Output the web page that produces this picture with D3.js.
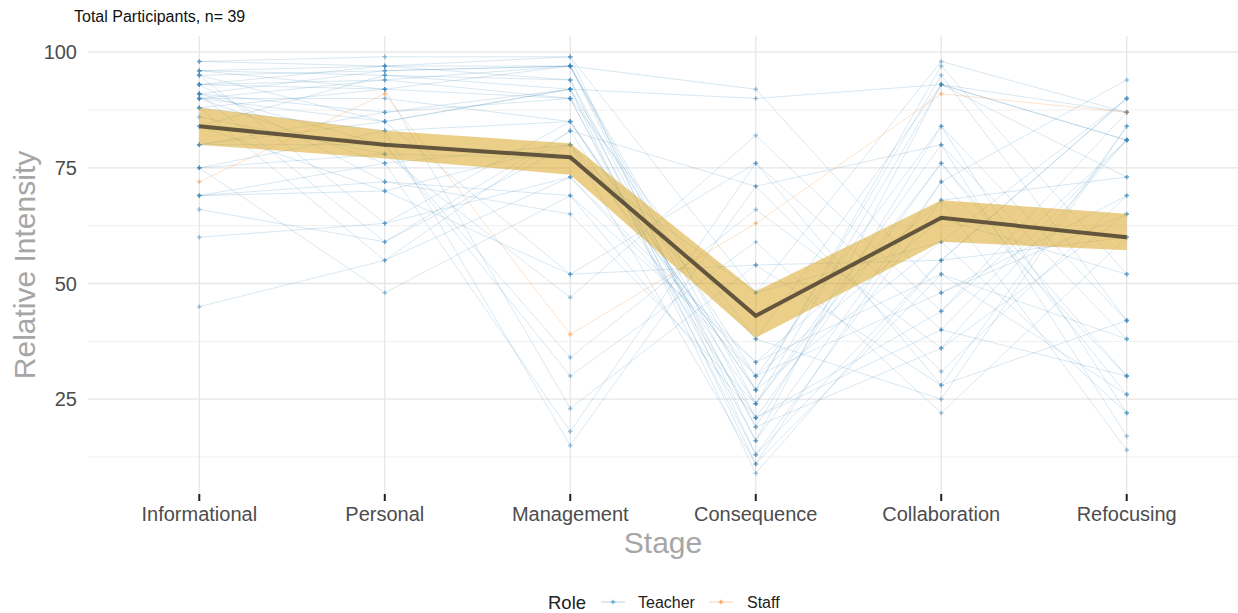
<!DOCTYPE html>
<html>
<head>
<meta charset="utf-8">
<script src="https://cdn.jsdelivr.net/npm/d3@7"></script>
<style>
  body { margin: 0; background: #fff; }
  text { font-family: "Liberation Sans", Arial, sans-serif; }
</style>
</head>
<body>
<div id="chart"></div>
<script>
//Stages on the x axis
const stages = ["Informational", "Personal", "Management", "Consequence", "Collaboration", "Refocusing"];

//One value per participant (same row order in every array), last one is the staff member
const informational = [98,98,96,96,96,95,95,95,93,93,93,93,91,91,91,91,90,90,90,90,88,88,88,86,84,84,80,80,80,75,75,75,69,69,69,66,60,45,72];
const personal      = [97,99,95,92,97,85,96,63,94,92,97,72,96,87,80,59,94,90,85,76,92,83,55,78,95,70,87,85,80,83,78,48,76,72,70,59,63,55,91];
const management    = [97,99,92,97,99,52,97,85,90,23,94,69,97,92,30,83,97,85,92,80,90,15,73,47,94,80,90,92,34,85,77,69,18,65,52,80,73,83,39];
const consequence   = [24,13,30,21,48,76,16,27,38,54,11,33,27,19,59,21,92,24,9,30,16,71,33,82,19,38,13,90,66,27,48,21,76,24,54,11,30,71,63];
const collaboration = [93,55,84,44,98,40,72,59,93,28,52,68,95,36,22,76,48,80,55,64,93,31,52,44,84,25,68,93,36,97,59,40,28,76,55,72,48,80,91];
const refocusing    = [81,90,42,81,87,30,94,22,87,84,26,73,42,81,60,30,65,17,90,52,81,69,38,87,22,84,14,73,65,52,90,81,42,26,60,30,69,38,87];
const roles = ["Teacher","Teacher","Teacher","Teacher","Teacher","Teacher","Teacher","Teacher","Teacher","Teacher",
               "Teacher","Teacher","Teacher","Teacher","Teacher","Teacher","Teacher","Teacher","Teacher","Teacher",
               "Teacher","Teacher","Teacher","Teacher","Teacher","Teacher","Teacher","Teacher","Teacher","Teacher",
               "Teacher","Teacher","Teacher","Teacher","Teacher","Teacher","Teacher","Teacher","Staff"];

//Group mean and its band
const meanLine = [84, 80, 77.3, 43, 64.2, 60];
const bandLow  = [80, 77, 73.5, 38.3, 59, 57.2];
const bandHigh = [88, 83, 80.3, 48.3, 68, 65.1];

//Tick labels
const yTicks = [25, 50, 75, 100];
const yMinor = [12.5, 37.5, 62.5, 87.5];
const legendRoles = ["Teacher", "Staff"];

const columns = [informational, personal, management, consequence, collaboration, refocusing];
const participants = roles.map(function (r, i) {
    return { role: r, values: columns.map(function (c) { return c[i]; }) };
});

const colors = { Teacher: "#2c7fb8", Staff: "#ff7f0e" };

var W = 1238, H = 613;
var margin = { top: 36, right: 0, bottom: 119, left: 88 };

var svg = d3.select("#chart")
    .append("svg")
    .attr("width", W)
    .attr("height", H);

//Scales
var x = d3.scalePoint()
    .domain(stages)
    .range([margin.left, W - margin.right])
    .padding(0.6);

var y = d3.scaleLinear()
    .domain([4.5, 103.5])
    .range([H - margin.bottom, margin.top]);

//Grid
var grid = svg.append("g");
grid.selectAll(".minor")
    .data(yMinor)
    .enter().append("line")
    .attr("x1", margin.left).attr("x2", W - margin.right)
    .attr("y1", d => y(d)).attr("y2", d => y(d))
    .attr("stroke", "#f0f0f0").attr("stroke-width", 1);
grid.selectAll(".major")
    .data(yTicks)
    .enter().append("line")
    .attr("x1", margin.left).attr("x2", W - margin.right)
    .attr("y1", d => y(d)).attr("y2", d => y(d))
    .attr("stroke", "#e6e6e6").attr("stroke-width", 1.3);
grid.selectAll(".vert")
    .data(stages)
    .enter().append("line")
    .attr("x1", d => x(d)).attr("x2", d => x(d))
    .attr("y1", margin.top).attr("y2", H - margin.bottom)
    .attr("stroke", "#e6e6e6").attr("stroke-width", 1.3);

//Participant lines
var line = d3.line()
    .x((d, i) => x(stages[i]))
    .y(d => y(d));

svg.append("g")
    .selectAll("path")
    .data(participants)
    .enter().append("path")
    .attr("d", d => line(d.values))
    .attr("fill", "none")
    .attr("stroke", d => colors[d.role])
    .attr("stroke-opacity", d => d.role == "Staff" ? 0.22 : 0.18)
    .attr("stroke-width", 1);

//Participant points
var cross = d3.symbol().type(d3.symbolCross).size(11);
var pts = [];
participants.forEach(function (p) {
    p.values.forEach(function (v, i) { pts.push({ role: p.role, stage: stages[i], v: v }); });
});
svg.append("g")
    .selectAll("path")
    .data(pts)
    .enter().append("path")
    .attr("d", cross)
    .attr("transform", d => "translate(" + x(d.stage) + "," + y(d.v) + ")")
    .attr("fill", d => colors[d.role])
    .attr("fill-opacity", 0.45);

//Band
var area = d3.area()
    .x((d, i) => x(stages[i]))
    .y0((d, i) => y(bandLow[i]))
    .y1((d, i) => y(bandHigh[i]));
svg.append("path")
    .attr("d", area(meanLine))
    .attr("fill", "#DAA520")
    .attr("fill-opacity", 0.53);

//Mean line
svg.append("path")
    .attr("d", line(meanLine))
    .attr("fill", "none")
    .attr("stroke", "#4b4130")
    .attr("stroke-opacity", 0.85)
    .attr("stroke-width", 4);

//Y axis labels
svg.append("g")
    .selectAll("text")
    .data(yTicks)
    .enter().append("text")
    .attr("x", margin.left - 11)
    .attr("y", d => y(d))
    .attr("dy", "0.36em")
    .attr("text-anchor", "end")
    .style("font-size", "20px")
    .style("fill", "#4d4d4d")
    .text(d => d);

//X axis ticks and labels
var xa = svg.append("g");
xa.selectAll("line")
    .data(stages)
    .enter().append("line")
    .attr("x1", d => x(d)).attr("x2", d => x(d))
    .attr("y1", H - margin.bottom).attr("y2", H - margin.bottom + 7)
    .attr("stroke", "#222").attr("stroke-width", 2);
xa.selectAll("text")
    .data(stages)
    .enter().append("text")
    .attr("x", d => x(d))
    .attr("y", 521)
    .attr("text-anchor", "middle")
    .style("font-size", "20px")
    .style("fill", "#4d4d4d")
    .text(d => d);

//Axis titles
svg.append("text")
    .attr("x", (margin.left + W) / 2)
    .attr("y", 553)
    .attr("text-anchor", "middle")
    .style("font-size", "30px")
    .style("fill", "#a6a6a6")
    .text("Stage");

svg.append("text")
    .attr("transform", "translate(35," + ((margin.top + H - margin.bottom) / 2) + ")rotate(-90)")
    .attr("text-anchor", "middle")
    .style("font-size", "30px")
    .style("fill", "#a6a6a6")
    .text("Relative Intensity");

//Subtitle
svg.append("text")
    .attr("x", 74)
    .attr("y", 22)
    .style("font-size", "16px")
    .style("fill", "#111")
    .text("Total Participants, n= 39");

//Legend
var lg = svg.append("g");
lg.append("text")
    .attr("x", 548).attr("y", 609)
    .style("font-size", "18.5px")
    .style("fill", "#222")
    .text("Role");
var keyX = [601, 709];
var labX = [638, 747];
legendRoles.forEach(function (r, i) {
    lg.append("line")
        .attr("x1", keyX[i]).attr("x2", keyX[i] + 24)
        .attr("y1", 602).attr("y2", 602)
        .attr("stroke", colors[r]).attr("stroke-opacity", 0.35);
    lg.append("path")
        .attr("d", cross)
        .attr("transform", "translate(" + (keyX[i] + 12) + ",602)")
        .attr("fill", colors[r]).attr("fill-opacity", 0.6);
    lg.append("text")
        .attr("x", labX[i]).attr("y", 608)
        .style("font-size", "16px")
        .style("fill", "#222")
        .text(r);
});
</script>
</body>
</html>
